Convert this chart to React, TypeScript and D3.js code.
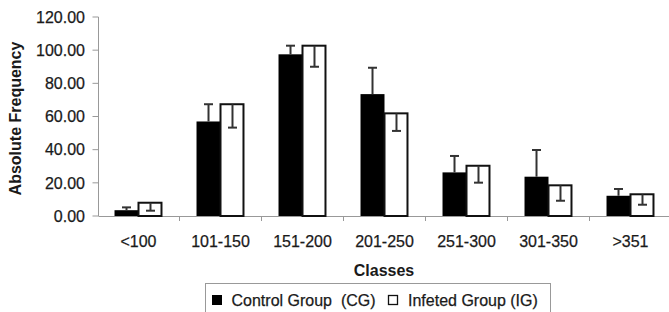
import React from "react";
import * as d3 from "d3";

const categories = ["<100", "101-150", "151-200", "201-250", "251-300", "301-350", ">351"];
const cgValues = [3.5, 57, 97.5, 73.5, 26.3, 23.7, 12.2];
const cgErrors = [1.7, 10.4, 5.2, 15.9, 9.9, 16.1, 4.1];
const igValues = [8, 67.4, 102.7, 61.9, 30.3, 18.5, 13.1];
const igErrors = [4.8, 14.1, 12.7, 10.6, 10.2, 9.3, 6.3];
const yTicks = [0, 20, 40, 60, 80, 100, 120];
const seriesNames = ["Control Group  (CG)", "Infeted Group (IG)"];

const W = 669;
const H = 312;
const FONT = "'Liberation Sans', Arial, sans-serif";

export default function App() {
  const x0 = d3.scaleBand<string>().domain(categories).range([97.5, 671.5]).paddingInner(0.415).paddingOuter(0.2075);
  const x1 = d3.scaleBand<string>().domain(["CG", "IG"]).range([0, x0.bandwidth()]).padding(0);
  const y = d3.scaleLinear().domain([0, 120]).range([216, 17]);
  const fmt = d3.format(".2f");
  const step = x0.step();
  const axisLeft = 98.5;
  const capW = 4.5;
  const txt = { fill: "#1a1a1a", stroke: "#1a1a1a", strokeWidth: 0.25 };

  return (
    <svg width={W} height={H} style={{ position: "absolute", left: 0, top: 0, background: "#fff" }} fontFamily={FONT}>
      <rect x={0} y={0} width={W} height={H} fill="#fff" />
      {/* y axis */}
      <line x1={axisLeft} x2={axisLeft} y1={y(120)} y2={y(0)} stroke="#999" strokeWidth={1} />
      {yTicks.map((t) => (
        <g key={t}>
          <line x1={axisLeft - 6} x2={axisLeft} y1={y(t)} y2={y(t)} stroke="#999" strokeWidth={1} />
          <text x={85} y={y(t)} dy="0.36em" textAnchor="end" fontSize={16} {...txt}>{fmt(t)}</text>
        </g>
      ))}
      {/* x axis */}
      <line x1={axisLeft} x2={W} y1={y(0) + 0.5} y2={y(0) + 0.5} stroke="#999" strokeWidth={1} />
      {categories.slice(1).map((c) => {
        const bx = (x0(c) as number) - (step - x0.bandwidth()) / 2;
        return <line key={c} x1={bx} x2={bx} y1={y(0) + 0.5} y2={y(0) + 5} stroke="#999" strokeWidth={1} />;
      })}
      {categories.map((c) => (
        <text key={c} x={(x0(c) as number) + x0.bandwidth() / 2} y={247} textAnchor="middle" fontSize={16} {...txt}>{c}</text>
      ))}
      {/* bars */}
      {categories.map((c, i) => {
        const gx = x0(c) as number;
        const bw = x1.bandwidth();
        const cx = gx + (x1("CG") as number);
        const ix = gx + (x1("IG") as number);
        const cTop = y(cgValues[i]);
        const iTop = y(igValues[i]);
        const cErr = y(cgValues[i] + cgErrors[i]);
        const iErr = y(igValues[i] - igErrors[i]);
        return (
          <g key={c}>
            <rect x={cx} y={cTop} width={bw} height={y(0) - cTop} fill="#000" />
            <rect x={ix} y={iTop} width={bw - 1} height={y(0) - iTop} fill="#fff" stroke="#111" strokeWidth={2} />
            <line x1={cx + bw / 2} x2={cx + bw / 2} y1={cTop} y2={cErr} stroke="#333" strokeWidth={2} />
            <line x1={cx + bw / 2 - capW} x2={cx + bw / 2 + capW} y1={cErr} y2={cErr} stroke="#333" strokeWidth={2} />
            <line x1={ix + bw / 2} x2={ix + bw / 2} y1={iTop} y2={iErr} stroke="#333" strokeWidth={2} />
            <line x1={ix + bw / 2 - capW} x2={ix + bw / 2 + capW} y1={iErr} y2={iErr} stroke="#333" strokeWidth={2} />
          </g>
        );
      })}
      {/* axis titles */}
      <text transform={`translate(21,118.5) rotate(-90)`} textAnchor="middle" fontSize={16} fontWeight="bold" fill="#1a1a1a">Absolute Frequency</text>
      <text x={384} y={276} textAnchor="middle" fontSize={16} fontWeight="bold" fill="#1a1a1a">Classes</text>
      {/* legend */}
      <rect x={205.5} y={283.5} width={345} height={40} fill="#fff" stroke="#999" strokeWidth={1} />
      <rect x={212} y={295} width={10} height={10} fill="#000" />
      <text x={231.5} y={305.5} fontSize={16} style={{ whiteSpace: "pre" }} {...txt}>{seriesNames[0]}</text>
      <rect x={388.5} y={295.5} width={9} height={9} fill="#fff" stroke="#111" strokeWidth={1.3} />
      <text x={408} y={305.5} fontSize={16} style={{ whiteSpace: "pre" }} {...txt}>{seriesNames[1]}</text>
    </svg>
  );
}
